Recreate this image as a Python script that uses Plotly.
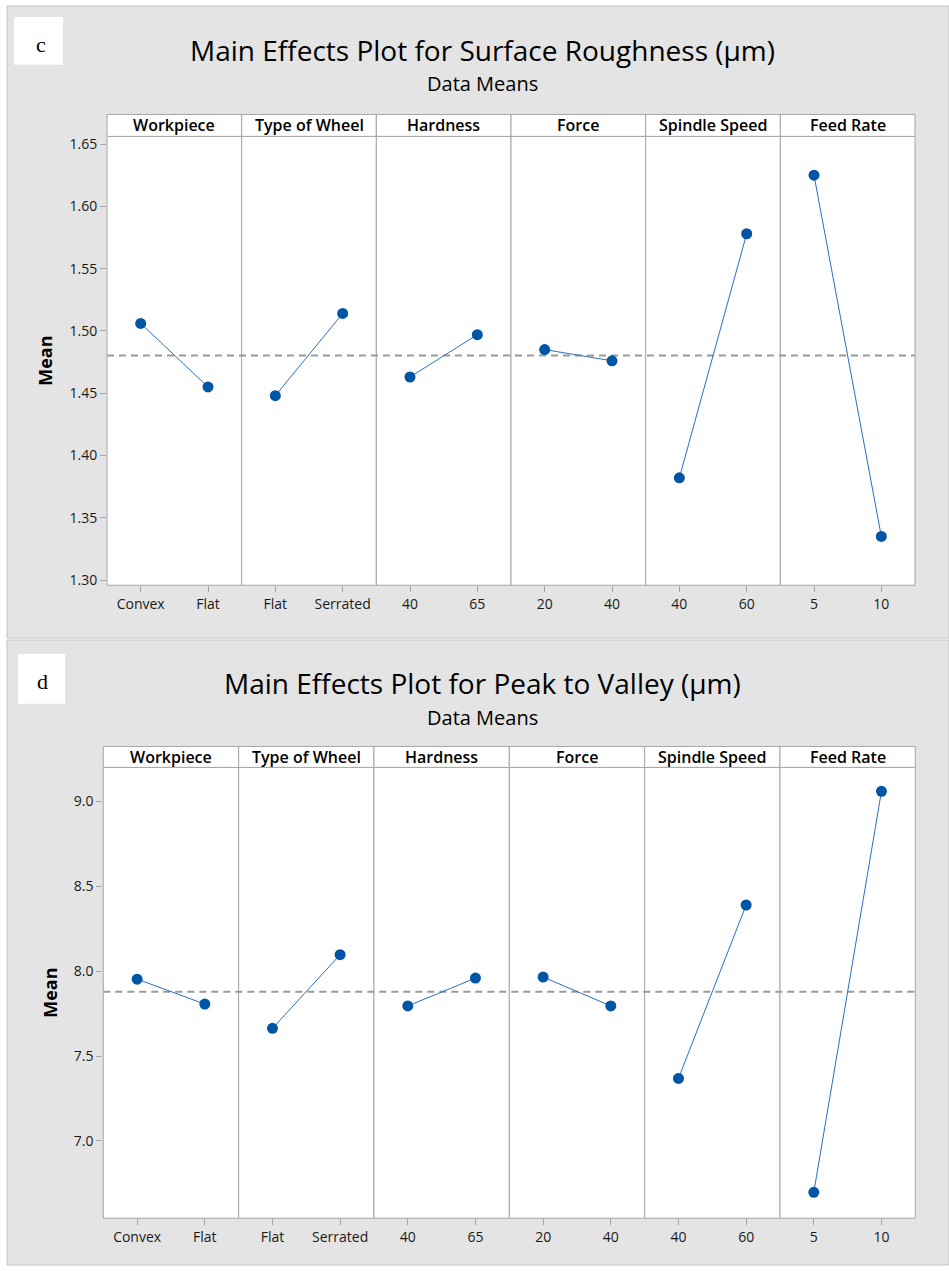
import plotly.graph_objects as go

# ---- data -----------------------------------------------------------------
factors = ["Workpiece", "Type of Wheel", "Hardness", "Force", "Spindle Speed", "Feed Rate"]
levels = [["Convex", "Flat"], ["Flat", "Serrated"], ["40", "65"],
          ["20", "40"], ["40", "60"], ["5", "10"]]

roughness_means = [[1.506, 1.455], [1.448, 1.514], [1.463, 1.497],
                   [1.485, 1.476], [1.382, 1.578], [1.625, 1.335]]
peak_valley_means = [[7.953, 7.806], [7.663, 8.097], [7.795, 7.959],
                     [7.965, 7.795], [7.368, 8.390], [6.697, 9.060]]

roughness_ticks = [1.30, 1.35, 1.40, 1.45, 1.50, 1.55, 1.60, 1.65]
peak_valley_ticks = [7.0, 7.5, 8.0, 8.5, 9.0]

# ---- page geometry (pixels) -------------------------------------------------
W, H = 949, 1271
FONT = "Open Sans"
BLUE = "#0055a5"
LINE_BLUE = "#2b6fbd"
FRAME = "#a6a6a6"
PANEL_GRAY = "#e4e4e4"


def fx(px):
    return px / W


def fy(py):
    return 1 - py / H


charts = [
    dict(tag="c", title="Main Effects Plot for Surface Roughness (µm)",
         means=roughness_means, ticks=roughness_ticks, fmt=".2f",
         yrange=[1.2958, 1.6562],
         bg=(7, 4, 949, 639), box=(14, 15, 63, 63), tag_xy=(41, 43),
         title_y=48, sub_y=82, head=(113, 135), plot=(107, 915, 135, 586),
         mean_label_x=45),
    dict(tag="d", title="Main Effects Plot for Peak to Valley (µm)",
         means=peak_valley_means, ticks=peak_valley_ticks, fmt=".1f",
         yrange=[6.544, 9.201],
         bg=(7, 641, 949, 1269), box=(18, 655, 65, 705), tag_xy=(42, 683),
         title_y=684, sub_y=719, head=(748, 769), plot=(103.3, 915.3, 769, 1222),
         mean_label_x=50),
]

fig = go.Figure()
shapes = []
annotations = []
layout_axes = {}

for ci, ch in enumerate(charts):
    yname = "y" if ci == 0 else "y2"
    yaxis_key = "yaxis" if ci == 0 else "yaxis2"
    x0, x1, ptop, pbot = ch["plot"]
    htop, hbot = ch["head"]
    pw = (x1 - x0) / len(factors)

    # grey backdrop of the chart
    bx0, by0, bx1, by1 = ch["bg"]
    shapes.append(dict(type="rect", xref="paper", yref="paper", layer="below",
                       x0=fx(bx0), x1=fx(bx1), y0=fy(by1), y1=fy(by0),
                       fillcolor=PANEL_GRAY, line=dict(color="#c4c4c4", width=1)))
    # small white tag box with the panel letter
    tx0, ty0, tx1, ty1 = ch["box"]
    shapes.append(dict(type="rect", xref="paper", yref="paper", layer="below",
                       x0=fx(tx0), x1=fx(tx1), y0=fy(ty1), y1=fy(ty0),
                       fillcolor="white", line=dict(width=0)))
    annotations.append(dict(text=ch["tag"], xref="paper", yref="paper",
                            x=fx(ch["tag_xy"][0]), y=fy(ch["tag_xy"][1]),
                            showarrow=False, xanchor="center", yanchor="middle",
                            font=dict(family="Liberation Serif", size=22, color="black")))

    # titles
    annotations.append(dict(text=ch["title"], xref="paper", yref="paper",
                            x=fx(482), y=fy(ch["title_y"]), showarrow=False,
                            xanchor="center", yanchor="middle",
                            font=dict(family=FONT, size=28, color="black")))
    annotations.append(dict(text="Data Means", xref="paper", yref="paper",
                            x=fx(482), y=fy(ch["sub_y"]), showarrow=False,
                            xanchor="center", yanchor="middle",
                            font=dict(family=FONT, size=20, color="black")))
    annotations.append(dict(text="<b>Mean</b>", xref="paper", yref="paper",
                            x=fx(ch["mean_label_x"]), y=fy((ptop + pbot) / 2),
                            showarrow=False, textangle=-90,
                            xanchor="center", yanchor="middle",
                            font=dict(family=FONT, size=18, color="black")))

    for k, name in enumerate(factors):
        n = ci * len(factors) + k + 1
        xname = "x" if n == 1 else f"x{n}"
        xaxis_key = "xaxis" if n == 1 else f"xaxis{n}"
        px0 = x0 + k * pw
        px1 = px0 + pw

        # white plot area and header cell
        shapes.append(dict(type="rect", xref="paper", yref="paper", layer="below",
                           x0=fx(px0), x1=fx(px1), y0=fy(pbot), y1=fy(ptop),
                           fillcolor="white", line=dict(color=FRAME, width=1)))
        shapes.append(dict(type="rect", xref="paper", yref="paper", layer="below",
                           x0=fx(px0), x1=fx(px1), y0=fy(hbot), y1=fy(htop),
                           fillcolor="white", line=dict(color=FRAME, width=1)))
        annotations.append(dict(text=name, xref="paper", yref="paper",
                                x=fx((px0 + px1) / 2), y=fy((htop + hbot) / 2),
                                showarrow=False, xanchor="center", yanchor="middle",
                                font=dict(family=FONT, size=16, weight=600, color="black")))

        layout_axes[xaxis_key] = dict(
            domain=[fx(px0), fx(px1)], anchor=yname, type="category",
            categoryorder="array", categoryarray=levels[k],
            range=[-0.5, 1.5], showgrid=False, zeroline=False, showline=False,
            ticks="outside", ticklen=6, tickwidth=1, tickcolor=FRAME,
            tickfont=dict(family=FONT, size=14, color="#1a1a1a"),
            fixedrange=True,
        )

        fig.add_trace(go.Scatter(
            x=levels[k], y=ch["means"][k], xaxis=xname, yaxis=yname,
            mode="lines+markers", showlegend=False,
            line=dict(color=LINE_BLUE, width=1),
            marker=dict(color=BLUE, size=11, line=dict(width=0)),
        ))

    layout_axes[yaxis_key] = dict(
        domain=[fy(pbot), fy(ptop)], anchor="x" if ci == 0 else "x7",
        range=ch["yrange"], tickvals=ch["ticks"], tickformat=ch["fmt"],
        showgrid=False, zeroline=False, showline=False,
        ticks="outside", ticklen=6, tickwidth=1, tickcolor=FRAME,
        tickfont=dict(family=FONT, size=14, color="#1a1a1a"),
        fixedrange=True,
    )

    # reference line at the grand mean of all level means
    all_vals = [v for pair in ch["means"] for v in pair]
    grand_mean = sum(all_vals) / len(all_vals)
    shapes.append(dict(type="line", xref="paper", yref=yname, layer="below",
                       x0=fx(x0), x1=fx(x1), y0=grand_mean, y1=grand_mean,
                       line=dict(color="#9a9a9a", width=2, dash="7px,5px")))

fig.update_layout(
    width=W, height=H,
    margin=dict(l=0, r=0, t=0, b=0),
    paper_bgcolor="white", plot_bgcolor="white",
    shapes=shapes, annotations=annotations,
    showlegend=False,
    **layout_axes,
)

fig.write_html("out.html")
